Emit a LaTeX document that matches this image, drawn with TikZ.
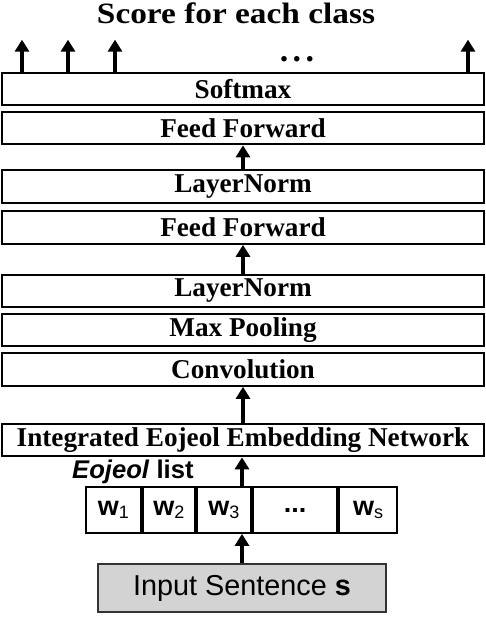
\documentclass[tikz,border=0pt]{standalone}
\usepackage{fontspec}
\setmainfont{Liberation Serif}
\setsansfont{Liberation Sans}
\usetikzlibrary{arrows.meta}

\newcommand\layerfont{\fontsize{27.2}{30}\selectfont\bfseries}
\newcommand\cellfont{\fontsize{27}{30}\selectfont\sffamily}
\newcommand\wsub[1]{{\bfseries w}\raisebox{-0.2ex}{\fontsize{18}{18}\selectfont #1}}

\begin{document}
\begin{tikzpicture}[
        x=1pt, y=-1pt,
        layer/.style={draw, line width=2.2pt, minimum width=482pt, minimum height=32.5pt,
                      inner sep=0pt, font=\layerfont},
        cell/.style={draw, line width=1.8pt, minimum height=46pt, inner sep=0pt, font=\cellfont},
        up/.style={-{Triangle[width=14pt,length=12pt]}, line width=4.5pt},
        lbl/.style={inner sep=0pt}]

    \useasboundingbox (0,0) rectangle (486,618);

    \node[lbl, anchor=base, font=\fontsize{29.5}{32}\selectfont\bfseries] (title) at (236,23.5)
        {\scalebox{1.13}[1]{Score for each class}};

    % --- layers, top to bottom
    \node[layer] (softmax) at (243,89)    {Softmax};
    \node[layer] (ff2)     at (243,128)   {Feed Forward};
    \node[layer] (ln2)     at (243,186.5) {LayerNorm};
    \node[layer] (ff1)     at (243,227.5) {Feed Forward};
    \node[layer] (ln1)     at (243,291)   {LayerNorm};
    \node[layer] (pool)    at (243,330)   {Max Pooling};
    \node[layer] (conv)    at (243,369.5) {Convolution};
    \node[layer] (ieen)    at (243,440)   {Integrated Eojeol Embedding Network};

    % --- eojeol list
    \node[lbl, anchor=base west, font=\fontsize{25.6}{28}\selectfont\sffamily\bfseries] (elist) at (72,478) {\textit{Eojeol} list};
    \node[cell, minimum width=55pt] (w1) at (113.5,510) {\wsub{1}};
    \node[cell, minimum width=52pt] (w2) at (169,510)   {\wsub{2}};
    \node[cell, minimum width=54pt] (w3) at (224,510)   {\wsub{3}};
    \node[cell, minimum width=84pt] (wd) at (295,510)   {\bfseries ...};
    \node[cell, minimum width=58pt] (ws) at (368,510)   {\wsub{s}};

    \node[draw=black!80, line width=2pt, fill={rgb,255:red,211;green,211;blue,211},
          minimum width=288pt, minimum height=48pt, inner sep=0pt,
          font=\fontsize{28.8}{30}\selectfont\sffamily] (inp) at (242,588) {Input Sentence \textbf{s}};

    % --- flow upwards
    \draw[up] (inp.north) -- (inp.north |- w3.south);
    \draw[up] (inp.north |- w3.north) -- (inp.north |- ieen.south);
    \draw[up] (ieen.north) -- (conv.south);
    \draw[up] (ln1.north) -- (ff1.south);
    \draw[up] (ln2.north) -- (ff2.south);

    % scores
    \foreach \x in {22,68,115,468}
        \draw[up] (softmax.north -| \x,0) -- ++(0,-32);
    \node[lbl, anchor=base, font=\fontsize{34}{36}\selectfont\bfseries] (dots) at (297,61) {.\hspace{4.5pt}.\hspace{4.5pt}.};

\end{tikzpicture}
\end{document}
